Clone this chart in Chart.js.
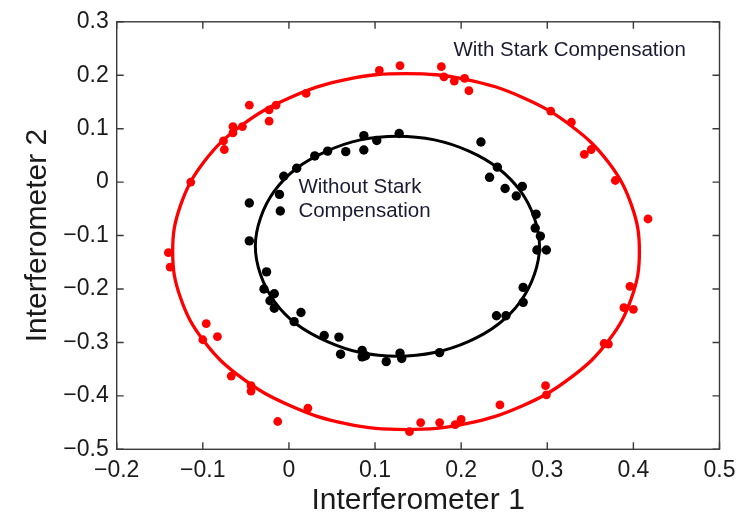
<!DOCTYPE html>
<html>
<head>
<meta charset="utf-8">
<title>Interferometer phase ellipses</title>
<script src="https://cdn.jsdelivr.net/npm/chart.js@4.4.1/dist/chart.umd.min.js"></script>
<style>
  html, body { margin: 0; padding: 0; background: #ffffff; }
  #wrap { width: 754px; height: 516px; }
</style>
</head>
<body>
<div id="wrap"><canvas id="chart" width="754" height="516"></canvas></div>
<script>
// Measured samples, with Stark compensation (red)
const withX = [-0.114, -0.076, -0.075, -0.065, -0.065, -0.054, -0.046, -0.023, -0.023, -0.015,
  0.020, 0.105, 0.129, 0.177, 0.180, 0.192, 0.204, 0.209, 0.304, 0.328,
  0.343, 0.351, 0.379, 0.417, 0.396, 0.389, 0.400, 0.366, 0.371, 0.298,
  0.299, 0.245, 0.200, 0.193, 0.175, 0.153, 0.140, 0.022, -0.013, -0.044,
  -0.044, -0.067, -0.096, -0.083, -0.100, -0.140, -0.138];
const withY = [0.000, 0.077, 0.061, 0.104, 0.092, 0.104, 0.144, 0.135, 0.114, 0.144,
  0.166, 0.209, 0.218, 0.216, 0.197, 0.189, 0.194, 0.171, 0.133, 0.112,
  0.052, 0.061, 0.003, -0.069, -0.195, -0.235, -0.238, -0.302, -0.303, -0.381,
  -0.398, -0.417, -0.444, -0.454, -0.450, -0.450, -0.467, -0.423, -0.448, -0.381,
  -0.391, -0.363, -0.265, -0.289, -0.295, -0.132, -0.159];

// Measured samples, without Stark compensation (black)
const withoutX = [-0.046, -0.046, -0.011, -0.010, -0.006, 0.009, 0.030, 0.045, 0.066, 0.087,
  0.087, 0.102, 0.128, 0.223, 0.242, 0.233, 0.251, 0.264, 0.271, 0.287,
  0.286, 0.292, 0.288, 0.299, 0.272, 0.272, 0.241, 0.252, 0.175, 0.131,
  0.129, 0.113, 0.089, 0.085, 0.085, 0.060, 0.058, 0.041, 0.014, 0.006,
  -0.017, -0.022, -0.017, -0.029, -0.026];
const withoutY = [-0.039, -0.110, -0.023, -0.054, 0.011, 0.026, 0.049, 0.058, 0.057, 0.087,
  0.060, 0.078, 0.091, 0.075, 0.028, 0.009, -0.012, -0.026, -0.008, -0.060,
  -0.086, -0.101, -0.127, -0.127, -0.197, -0.225, -0.250, -0.250, -0.319, -0.330,
  -0.320, -0.336, -0.325, -0.315, -0.327, -0.322, -0.290, -0.287, -0.244, -0.261,
  -0.236, -0.222, -0.209, -0.200, -0.168];

// Fitted ellipse outlines (closed loops)
const withFitX = [0.407, 0.398, 0.371, 0.328, 0.272, 0.206, 0.136, 0.066, 0.001, -0.056, -0.099, -0.126,
  -0.135, -0.126, -0.099, -0.056, 0.001, 0.066, 0.136, 0.206, 0.272, 0.328, 0.371, 0.398];
const withFitY = [-0.130, -0.044, 0.037, 0.105, 0.158, 0.192, 0.203, 0.192, 0.158, 0.105, 0.037, -0.044,
  -0.130, -0.216, -0.297, -0.365, -0.418, -0.452, -0.463, -0.452, -0.418, -0.365, -0.297, -0.216];
const withoutFitX = [0.291, 0.285, 0.269, 0.243, 0.209, 0.169, 0.126, 0.083, 0.044, 0.009, -0.017, -0.033,
  -0.039, -0.033, -0.017, 0.009, 0.044, 0.083, 0.126, 0.169, 0.209, 0.243, 0.269, 0.285];
const withoutFitY = [-0.120, -0.067, -0.017, 0.026, 0.058, 0.079, 0.086, 0.079, 0.058, 0.026, -0.017, -0.067,
  -0.120, -0.173, -0.223, -0.266, -0.298, -0.319, -0.326, -0.319, -0.298, -0.266, -0.223, -0.173];

// Axis ticks
const xTickValues = [-0.2, -0.1, 0, 0.1, 0.2, 0.3, 0.4, 0.5];
const xTickLabels = ['\u22120.2', '\u22120.1', '0', '0.1', '0.2', '0.3', '0.4', '0.5'];
const yTickValues = [-0.5, -0.4, -0.3, -0.2, -0.1, 0, 0.1, 0.2, 0.3];
const yTickLabels = ['\u22120.5', '\u22120.4', '\u22120.3', '\u22120.2', '\u22120.1', '0', '0.1', '0.2', '0.3'];

// Text
const xTitle = 'Interferometer 1';
const yTitle = 'Interferometer 2';
const withLabel = ['With Stark Compensation'];
const withLabelAt = [0.191, 0.246];
const withoutLabel = ['Without Stark', 'Compensation'];
const withoutLabelAt = [0.011, -0.009];

const FONT = '"Liberation Sans", Arial, Helvetica, sans-serif';
const pts = (xs, ys) => xs.map((x, i) => ({ x: x, y: ys[i] }));

// Close the fitted outlines into smooth loops
const closedLoops = {
  id: 'closedLoops',
  afterDatasetsUpdate(chart) {
    chart.data.datasets.forEach((ds, i) => {
      if (!ds.closed) return;
      const line = chart.getDatasetMeta(i).dataset;
      if (!line) return;
      line._loop = true;
      line._fullLoop = true;
      line._pointsUpdated = false;
      delete line._segments;
      delete line._path;
    });
  }
};

// Box frame with inward tick marks on all four sides, plus the in-plot labels
const frame = {
  id: 'frame',
  afterDatasetsDraw(chart) {
    const { ctx, chartArea: a, scales: { x, y } } = chart;
    const len = 7;
    ctx.save();
    ctx.strokeStyle = '#3a3a3a';
    ctx.lineWidth = 1.4;
    ctx.beginPath();
    xTickValues.forEach(v => {
      const px = x.getPixelForValue(v);
      ctx.moveTo(px, a.bottom); ctx.lineTo(px, a.bottom - len);
      ctx.moveTo(px, a.top); ctx.lineTo(px, a.top + len);
    });
    yTickValues.forEach(v => {
      const py = y.getPixelForValue(v);
      ctx.moveTo(a.left, py); ctx.lineTo(a.left + len, py);
      ctx.moveTo(a.right, py); ctx.lineTo(a.right - len, py);
    });
    ctx.stroke();
    ctx.strokeRect(a.left, a.top, a.right - a.left, a.bottom - a.top);

    ctx.fillStyle = '#1a1a33';
    ctx.font = '20.5px ' + FONT;
    ctx.textAlign = 'left';
    ctx.textBaseline = 'middle';
    const drawLines = (lines, at) => {
      const px = x.getPixelForValue(at[0]);
      const py = y.getPixelForValue(at[1]);
      lines.forEach((t, i) => ctx.fillText(t, px, py + i * 24));
    };
    drawLines(withLabel, withLabelAt);
    drawLines(withoutLabel, withoutLabelAt);
    ctx.restore();
  }
};

new Chart(document.getElementById('chart'), {
  type: 'scatter',
  data: {
    datasets: [
      { label: 'With Stark Compensation', data: pts(withX, withY),
        backgroundColor: '#ff0000', borderWidth: 0, pointRadius: 4.4 },
      { label: 'Without Stark Compensation', data: pts(withoutX, withoutY),
        backgroundColor: '#000000', borderWidth: 0, pointRadius: 4.7 },
      { type: 'line', label: 'fit (with)', data: pts(withFitX, withFitY), closed: true,
        borderColor: '#ff0000', borderWidth: 3.3, pointRadius: 0, tension: 0.4, fill: false },
      { type: 'line', label: 'fit (without)', data: pts(withoutFitX, withoutFitY), closed: true,
        borderColor: '#000000', borderWidth: 3, pointRadius: 0, tension: 0.4, fill: false }
    ]
  },
  options: {
    responsive: false,
    animation: false,
    layout: { padding: { top: 15.7, right: 34.5, bottom: 0, left: 0 } },
    plugins: { legend: { display: false }, tooltip: { enabled: false }, title: { display: false } },
    elements: { line: { capBezierPoints: false } },
    scales: {
      x: {
        type: 'linear', min: -0.2, max: 0.5,
        afterBuildTicks: s => { s.ticks = xTickValues.map(v => ({ value: v })); },
        afterFit: s => { s.height = 66.7; },
        grid: { display: false, drawTicks: false },
        border: { display: false },
        ticks: {
          callback: (v, i) => xTickLabels[i], autoSkip: false, maxRotation: 0, minRotation: 0,
          padding: 8, color: '#1a1a1a', font: { family: FONT, size: 23 }
        },
        title: { display: true, text: xTitle, color: '#1a1a1a',
          font: { family: FONT, size: 30, lineHeight: 1 }, padding: { top: 0, bottom: 0 } }
      },
      y: {
        type: 'linear', min: -0.5, max: 0.3,
        afterBuildTicks: s => { s.ticks = yTickValues.map(v => ({ value: v })); },
        afterFit: s => { s.width = 116.7; },
        grid: { display: false, drawTicks: false },
        border: { display: false },
        ticks: {
          callback: (v, i) => yTickLabels[i], autoSkip: false,
          padding: 8, color: '#1a1a1a', font: { family: FONT, size: 23 }
        },
        title: { display: true, text: yTitle, color: '#1a1a1a',
          font: { family: FONT, size: 30, lineHeight: 1 }, padding: { top: 23, bottom: 0 } }
      }
    }
  },
  plugins: [closedLoops, frame]
});
</script>
</body>
</html>
